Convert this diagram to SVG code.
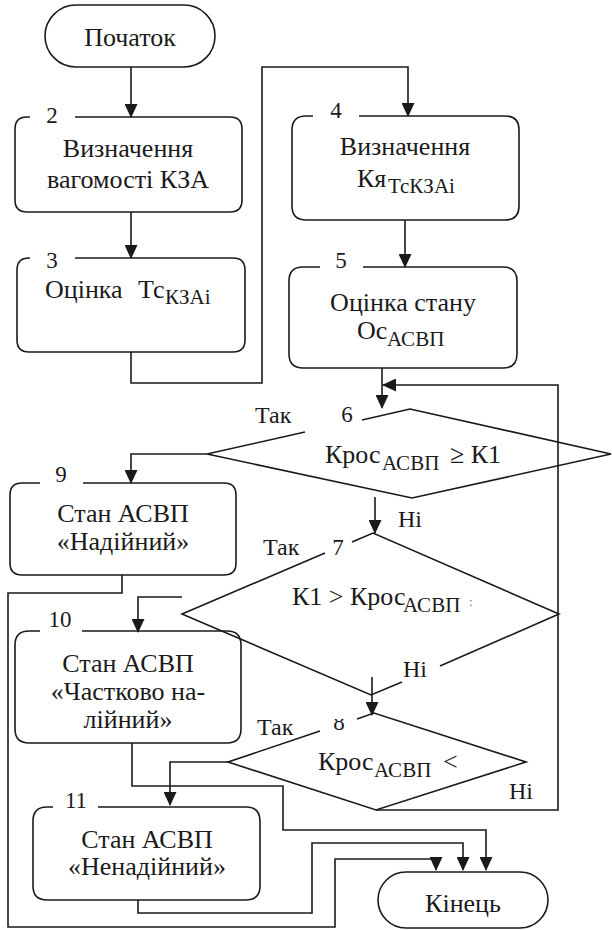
<svg xmlns="http://www.w3.org/2000/svg" width="612" height="930" viewBox="0 0 612 930">
<defs>
<style>
.ln{fill:none;stroke:#1a1a1a;stroke-width:1.6}
.sh{fill:#fff;stroke:#1a1a1a;stroke-width:1.6}
.t{font-size:26px;fill:#1a1a1a}
.c{text-anchor:middle}
.s{font-size:21px}
.n{font-size:23px}
.lb{font-size:24px}
.arr{marker-end:url(#ah)}
</style>
<marker id="ah" markerWidth="14" markerHeight="13" refX="13" refY="6.5" orient="auto" markerUnits="userSpaceOnUse">
<path d="M0,0 L14,6.5 L0,13 z" fill="#1a1a1a"/>
</marker>
<clipPath id="clip8"><rect x="320" y="719" width="40" height="20"/></clipPath>
</defs>
<rect width="612" height="930" fill="#fff"/>
<g font-family="'Liberation Serif', 'Times New Roman', serif">

<g id="connectors">
<path class="ln arr" d="M131,67 V117"/>
<path class="ln arr" d="M131,212 V258"/>
<path class="ln arr" d="M131,352 V383 H262 V67 H408 V116"/>
<path class="ln arr" d="M405,220 V267"/>
<path class="ln arr" d="M382,368 V408"/>
<path class="ln arr" d="M376,810 H558 V385 H383"/>
<path class="ln arr" d="M207,454 H131 V483"/>
<path class="ln arr" d="M375,497 V533"/>
<path class="ln arr" d="M182,597 H138 V632"/>
<path class="ln arr" d="M372,677 V715"/>
<path class="ln arr" d="M228,762 H170 V805"/>
<path class="ln arr" d="M122,575 V593 H8 V927 H335 V859 H436 V870"/>
<path class="ln arr" d="M132,743 V786 H283 V830 H486 V870"/>
<path class="ln arr" d="M138,900 V913 H312 V843 H463 V870"/>
<text class="t lb" x="255" y="423">Так</text>
<text class="t lb" x="398" y="527">Ні</text>
<text class="t lb" x="263" y="555">Так</text>
<text class="t lb" x="403" y="677">Ні</text>
<text class="t lb" x="257" y="735">Так</text>
<text class="t lb" x="509" y="799">Ні</text>
</g>

<g id="start">
<rect class="sh" x="45" y="5" width="170" height="62" rx="31"/>
<text class="t c" x="130" y="46">Початок</text>
</g>

<g id="n2">
<path class="ln" d="M75,117 H230 Q242,117 242,129 V200 Q242,212 230,212 H27 Q15,212 15,200 V129 Q15,117 27,117 H30"/>
<text class="t n c" x="52" y="123">2</text>
<text class="t c" x="128" y="157">Визначення</text>
<text class="t c" x="128" y="188">вагомості КЗА</text>
</g>

<g id="n3">
<path class="ln" d="M75,258 H233 Q245,258 245,270 V340 Q245,352 233,352 H29 Q17,352 17,340 V270 Q17,258 29,258 H30"/>
<text class="t n c" x="52" y="268">3</text>
<text class="t"><tspan x="45" y="298">Оцінка</tspan><tspan x="138" y="298">Тс</tspan><tspan class="s" x="165" y="304">КЗАі</tspan></text>
</g>

<g id="n4">
<path class="ln" d="M359,116 H505 Q519,116 519,130 V206 Q519,220 505,220 H306 Q292,220 292,206 V130 Q292,116 306,116 H313"/>
<text class="t n c" x="336" y="118">4</text>
<text class="t c" x="405" y="155">Визначення</text>
<text class="t"><tspan x="357" y="187">Кя</tspan><tspan class="s" x="388" y="193">ТсКЗАі</tspan></text>
</g>

<g id="n5">
<path class="ln" d="M363,267 H503 Q517,267 517,281 V354 Q517,368 503,368 H303 Q289,368 289,354 V281 Q289,267 303,267 H320"/>
<text class="t n c" x="341" y="268">5</text>
<text class="t c" x="403" y="311">Оцінка стану</text>
<text class="t"><tspan x="357" y="339">Ос</tspan><tspan class="s" x="387" y="346">АСВП</tspan></text>
</g>

<g id="n6">
<path class="ln" d="M362,420 L410,409 L611,454 L412,498 L207,454 L305,432"/>
<text class="t n c" x="347" y="422">6</text>
<text class="t"><tspan x="325" y="463">Крос</tspan><tspan class="s" x="382" y="470">АСВП</tspan><tspan x="450" y="463">≥ К1</tspan></text>
</g>

<g id="n7">
<path class="ln" d="M352,542 L373,533 L559,614 L440,666 M402,682 L371,695 L182,614 L325,553"/>
<text class="t n c" x="338" y="555">7</text>
<text class="t"><tspan x="292" y="605">К1 &gt; Крос</tspan><tspan class="s" x="403" y="612">АСВП</tspan></text>
<text class="t" x="469" y="606" style="font-size:13px;fill:#777">:</text>
</g>

<g id="n8">
<path class="ln" d="M357,719 L374,713 L526,762 L376,810 L228,762 L320,731"/>
<text class="t n c" x="339" y="730" clip-path="url(#clip8)">8</text>
<text class="t"><tspan x="318" y="770">Крос</tspan><tspan class="s" x="374" y="777">АСВП</tspan><tspan x="443" y="770">&lt;</tspan></text>
</g>

<g id="n9">
<path class="ln" d="M83,483 H224 Q236,483 236,495 V563 Q236,575 224,575 H22 Q10,575 10,563 V495 Q10,483 22,483 H40"/>
<text class="t n c" x="61" y="482">9</text>
<text class="t c" x="123" y="522">Стан АСВП</text>
<text class="t c" x="123" y="550">«Надійний»</text>
</g>

<g id="n10">
<path class="ln" d="M82,631 H227 Q241,631 241,645 V729 Q241,743 227,743 H29 Q15,743 15,729 V645 Q15,631 29,631 H40"/>
<text class="t n c" x="60" y="627">10</text>
<text class="t c" x="128" y="672">Стан АСВП</text>
<text class="t c" x="128" y="700">«Частково на-</text>
<text class="t c" x="128" y="728">лійний»</text>
</g>

<g id="n11">
<path class="ln" d="M98,807 H246 Q260,807 260,821 V886 Q260,900 246,900 H47 Q33,900 33,886 V821 Q33,807 47,807 H53"/>
<text class="t n c" x="76" y="808">11</text>
<text class="t c" x="147" y="848">Стан АСВП</text>
<text class="t c" x="147" y="875">«Ненадійний»</text>
</g>

<g id="end">
<rect class="sh" x="378" y="872" width="170" height="56" rx="28"/>
<text class="t c" x="463" y="912">Кінець</text>
</g>
</g>
</svg>
